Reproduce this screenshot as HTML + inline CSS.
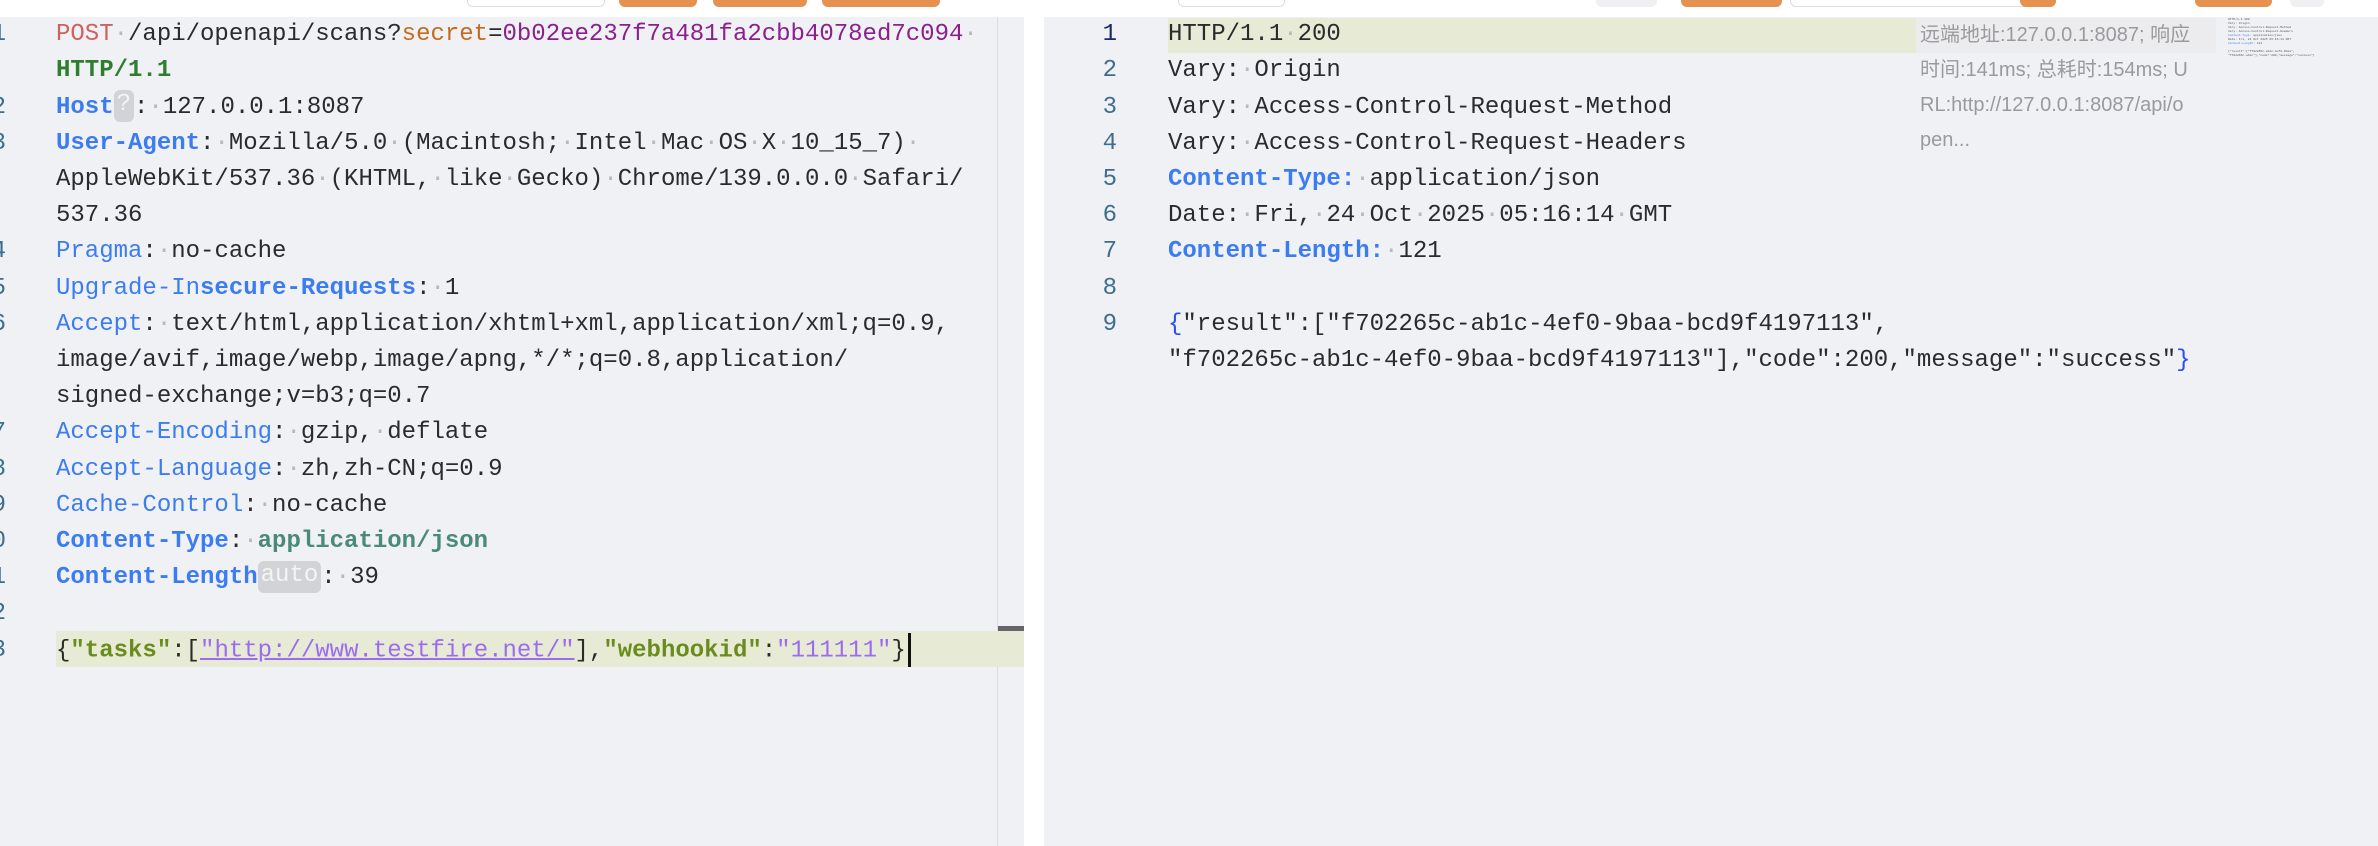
<!DOCTYPE html>
<html><head><meta charset="utf-8"><style>
*{margin:0;padding:0;box-sizing:border-box}
body{width:2378px;height:846px;overflow:hidden;background:#fff;position:relative;font-family:"Liberation Mono",monospace;font-size:24px;color:#2b2b2b}
.pane{position:absolute;top:17px;bottom:0;background:#f0f1f5}
.r{position:absolute;height:36.2px;line-height:36.2px;white-space:pre;margin-top:2px}
.d{color:#b8b8bd}
.b{color:#3b7cf0}
.bb{color:#3b7cf0;font-weight:bold}
.n{position:absolute;width:40px;text-align:right;color:#3e6d8e;height:36.2px;line-height:36.2px;margin-top:2px}
.badge{display:inline-block;background:#d2d3d6;color:#f4f4f4;border-radius:6px;line-height:30px;height:32px;vertical-align:middle;padding:0 3px}
.btn{position:absolute;top:0;height:7px;border-radius:0 0 6px 6px}
.cur{display:inline-block;width:3px;height:34px;background:#111;vertical-align:middle;margin-left:2px}
</style></head><body>
<div class="btn" style="left:467px;width:138px;background:#fff;border:1px solid #ddd;border-top:none"></div>
<div class="btn" style="left:619px;width:78px;background:#e6914f"></div>
<div class="btn" style="left:713px;width:94px;background:#e6914f"></div>
<div class="btn" style="left:822px;width:118px;background:#e6914f"></div>
<div class="btn" style="left:1178px;width:107px;background:#fff;border:1px solid #ddd;border-top:none"></div>
<div class="btn" style="left:1596px;width:61px;background:#f0f0f2"></div>
<div class="btn" style="left:1681px;width:101px;background:#e6914f"></div>
<div class="btn" style="left:1790px;width:266px;background:#fff;border:1px solid #ddd;border-top:none"></div>
<div class="btn" style="left:2020px;width:36px;background:#e6914f"></div>
<div class="btn" style="left:2195px;width:77px;background:#e6914f"></div>
<div class="btn" style="left:2290px;width:34px;background:#f0f0f2"></div>

<div class="pane" style="left:0;width:1024px"></div>
<div style="position:absolute;left:997px;top:17px;width:1px;bottom:0;background:#dcdde2"></div>
<div style="position:absolute;left:998px;top:626px;width:26px;height:5px;background:#666"></div>
<div class="pane" style="left:1044px;right:0"></div>

<div style="position:absolute;left:56px;top:631px;width:968px;height:36px;background:#e7ebd5"></div>

<div class="n" style="left:-34px;top:15.2px">1</div>
<div class="n" style="left:-34px;top:87.6px">2</div>
<div class="n" style="left:-34px;top:123.8px">3</div>
<div class="n" style="left:-34px;top:232.4px">4</div>
<div class="n" style="left:-34px;top:268.6px">5</div>
<div class="n" style="left:-34px;top:304.8px">6</div>
<div class="n" style="left:-34px;top:413.4px">7</div>
<div class="n" style="left:-34px;top:449.6px">8</div>
<div class="n" style="left:-34px;top:485.8px">9</div>
<div class="n" style="left:-34px;top:522px">0</div>
<div class="n" style="left:-34px;top:558.2px">1</div>
<div class="n" style="left:-34px;top:594.4px">2</div>
<div class="n" style="left:-34px;top:630.6px">3</div>

<div class="r" style="left:56px;top:15.2px"><span style="color:#d0605e">POST</span><span class="d">·</span>/api/openapi/scans?<span style="color:#c66a1e">secret</span>=<span style="color:#8b1f8d">0b02ee237f7a481fa2cbb4078ed7c094</span><span class="d">·</span></div>
<div class="r" style="left:56px;top:51.4px;color:#2f7d2f;font-weight:bold">HTTP/1.1</div>
<div class="r" style="left:56px;top:87.6px"><span class="bb">Host</span><span class="badge">?</span>:<span class="d">·</span>127.0.0.1:8087</div>
<div class="r" style="left:56px;top:123.8px"><span class="bb">User-Agent</span>:<span class="d">·</span>Mozilla/5.0<span class="d">·</span>(Macintosh;<span class="d">·</span>Intel<span class="d">·</span>Mac<span class="d">·</span>OS<span class="d">·</span>X<span class="d">·</span>10_15_7)<span class="d">·</span></div>
<div class="r" style="left:56px;top:160px">AppleWebKit/537.36<span class="d">·</span>(KHTML,<span class="d">·</span>like<span class="d">·</span>Gecko)<span class="d">·</span>Chrome/139.0.0.0<span class="d">·</span>Safari/</div>
<div class="r" style="left:56px;top:196.2px">537.36</div>
<div class="r" style="left:56px;top:232.4px"><span class="b">Pragma</span>:<span class="d">·</span>no-cache</div>
<div class="r" style="left:56px;top:268.6px"><span class="b">Upgrade-In</span><span class="bb">secure-Requests</span>:<span class="d">·</span>1</div>
<div class="r" style="left:56px;top:304.8px"><span class="b">Accept</span>:<span class="d">·</span>text/html,application/xhtml+xml,application/xml;q=0.9,</div>
<div class="r" style="left:56px;top:341px">image/avif,image/webp,image/apng,*/*;q=0.8,application/</div>
<div class="r" style="left:56px;top:377.2px">signed-exchange;v=b3;q=0.7</div>
<div class="r" style="left:56px;top:413.4px"><span class="b">Accept-Encoding</span>:<span class="d">·</span>gzip,<span class="d">·</span>deflate</div>
<div class="r" style="left:56px;top:449.6px"><span class="b">Accept-Language</span>:<span class="d">·</span>zh,zh-CN;q=0.9</div>
<div class="r" style="left:56px;top:485.8px"><span class="b">Cache-Control</span>:<span class="d">·</span>no-cache</div>
<div class="r" style="left:56px;top:522px"><span class="bb">Content-Type</span>:<span class="d">·</span><span style="color:#4a8a78;font-weight:bold">application/json</span></div>
<div class="r" style="left:56px;top:558.2px"><span class="bb">Content-Length</span><span class="badge">auto</span>:<span class="d">·</span>39</div>
<div class="r" style="left:56px;top:630.6px">{<span style="color:#6a8c1c;font-weight:bold">"tasks"</span>:[<span style="color:#9b6cf0;text-decoration:underline">"http://www.testfire.net/"</span>],<span style="color:#6a8c1c;font-weight:bold">"webhookid"</span>:<span style="color:#9b6cf0">"111111"</span>}<span class="cur"></span></div>

<div style="position:absolute;left:1168px;top:18px;width:748px;height:35px;background:#e7ebd5"></div>
<div style="position:absolute;left:1916px;top:18px;width:300px;height:35px;background:#ececee"></div>
<div class="n" style="left:1077px;top:15.2px;color:#1d2a66">1</div>
<div class="n" style="left:1077px;top:51.4px">2</div>
<div class="n" style="left:1077px;top:87.6px">3</div>
<div class="n" style="left:1077px;top:123.8px">4</div>
<div class="n" style="left:1077px;top:160px">5</div>
<div class="n" style="left:1077px;top:196.2px">6</div>
<div class="n" style="left:1077px;top:232.4px">7</div>
<div class="n" style="left:1077px;top:268.6px">8</div>
<div class="n" style="left:1077px;top:304.8px">9</div>
<div class="r" style="left:1168px;top:15.2px">HTTP/1.1<span class="d">·</span>200</div>
<div class="r" style="left:1168px;top:51.4px">Vary:<span class="d">·</span>Origin</div>
<div class="r" style="left:1168px;top:87.6px">Vary:<span class="d">·</span>Access-Control-Request-Method</div>
<div class="r" style="left:1168px;top:123.8px">Vary:<span class="d">·</span>Access-Control-Request-Headers</div>
<div class="r" style="left:1168px;top:160px"><span class="bb">Content-Type:</span><span class="d">·</span>application/json</div>
<div class="r" style="left:1168px;top:196.2px">Date:<span class="d">·</span>Fri,<span class="d">·</span>24<span class="d">·</span>Oct<span class="d">·</span>2025<span class="d">·</span>05:16:14<span class="d">·</span>GMT</div>
<div class="r" style="left:1168px;top:232.4px"><span class="bb">Content-Length:</span><span class="d">·</span>121</div>
<div class="r" style="left:1168px;top:304.8px"><span style="color:#2a4ef0">{</span>"result":["f702265c-ab1c-4ef0-9baa-bcd9f4197113",</div>
<div class="r" style="left:1168px;top:341px">"f702265c-ab1c-4ef0-9baa-bcd9f4197113"],"code":200,"message":"success"<span style="color:#2a4ef0">}</span></div>

<div style="position:absolute;left:1920px;top:18px;width:274px;font-family:'Liberation Sans','Noto Sans CJK SC',sans-serif;font-size:20px;line-height:35px;color:#9a9a9e;word-break:break-all">远端地址:127.0.0.1:8087; 响应时间:141ms; 总耗时:154ms; URL:http://127.0.0.1:8087/api/open...</div>

<div style="position:absolute;left:2228px;top:18px;width:90px;font-size:3px;line-height:4px;color:#555;white-space:pre">HTTP/1.1 200
Vary: Origin
Vary: Access-Control-Request-Method
Vary: Access-Control-Request-Headers
<span style="color:#3b7cf0">Content-Type:</span> application/json
Date: Fri, 24 Oct 2025 05:16:14 GMT
<span style="color:#3b7cf0">Content-Length:</span> 121

{"result":["f702265c-ab1c-4ef0-9baa",
"f702265c-ab1c"],"code":200,"message":"success"}</div>
</body></html>
